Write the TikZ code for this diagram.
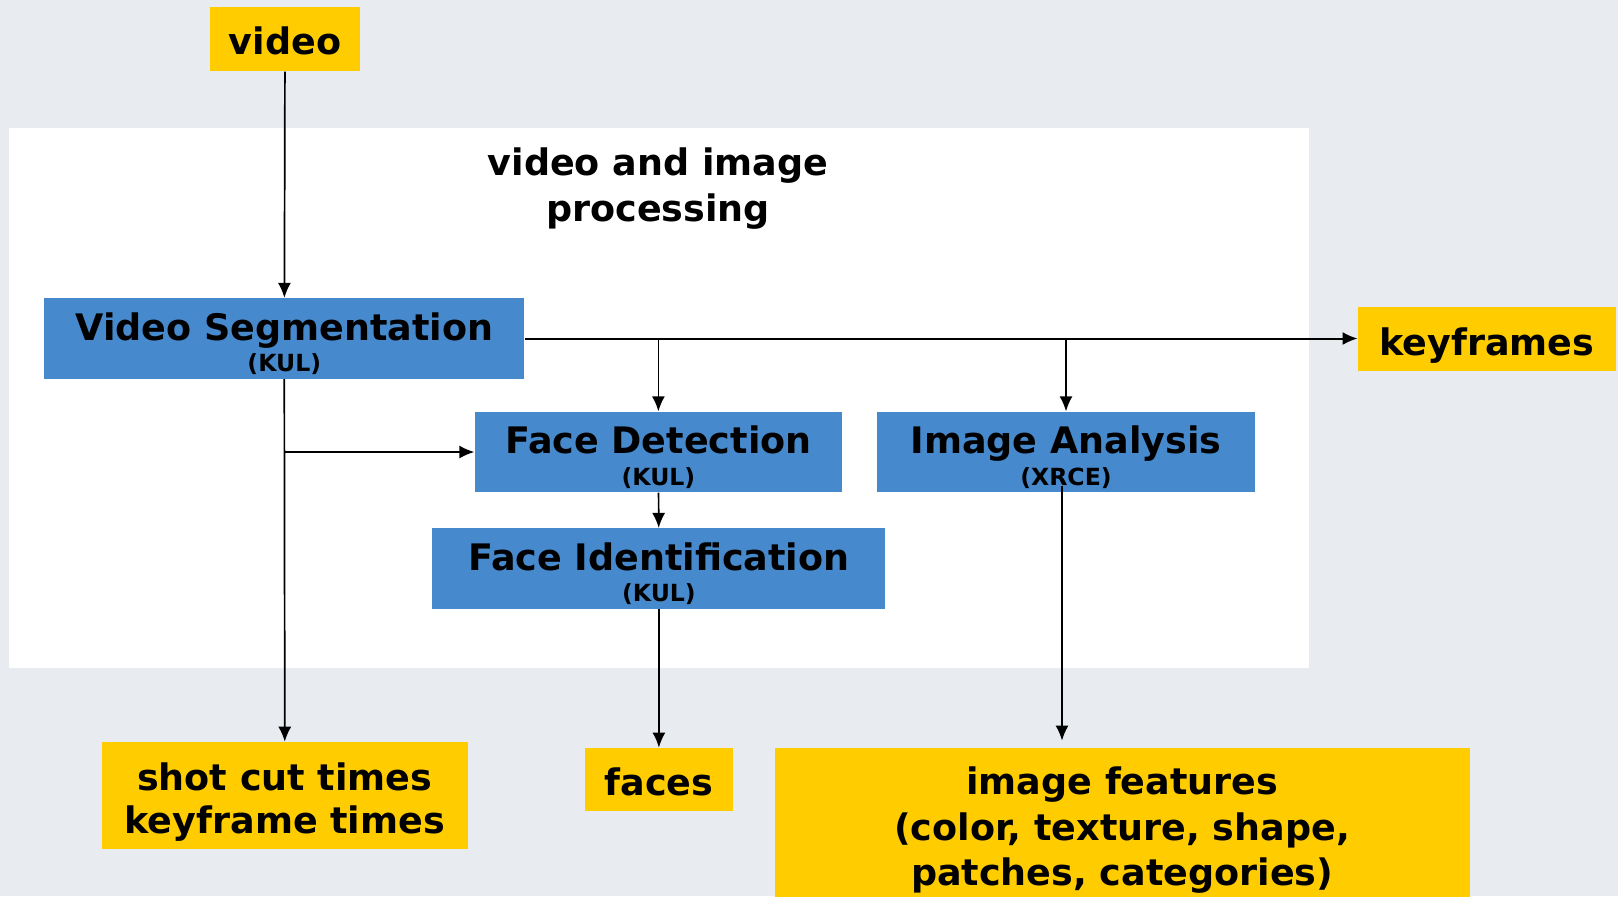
\documentclass[tikz,border=0pt]{standalone}
\usepackage{fontspec}
\setmainfont{DejaVu Sans}
\usepackage{xcolor}
\usepackage{tikz}
\usetikzlibrary{arrows.meta}
\definecolor{bgpanel}{RGB}{232,236,240}
\definecolor{boxblue}{RGB}{70,137,204}
\definecolor{outyellow}{RGB}{255,204,0}
\newcommand{\bigtxt}{\fontsize{18.25}{22.7}\selectfont\bfseries}
\newcommand{\kultxt}{\fontsize{11.8}{14}\selectfont\bfseries}
\newcommand{\dropto}[1]{\rule{0pt}{#1}}
\tikzstyle{arrow} = [-{Latex[length=7.5pt,width=6.5pt]}, line width=0.85pt]
\tikzstyle{procbox} = [fill=boxblue, align=center, inner sep=0pt, minimum height=40.25pt]
\tikzstyle{outbox} = [fill=outyellow, align=center, inner sep=0pt]

\begin{document}
\begin{tikzpicture}[x=0.5pt, y=-0.5pt, every node/.style={font=\bigtxt, text depth=0pt}]
		\fill [bgpanel] (0,0) rectangle (1618,896);
		\useasboundingbox (0,0) rectangle (1618,896);
		\fill [white] (9.3,128) rectangle (1308.5,667.6);
		
		\node (video) [outbox, minimum width=75.3pt, minimum height=32pt] at (285,39.2) {\dropto{15pt}video};
		\node (ptitle) [align=center] at (658,184.5) {video and image\\processing};
		
		\node (vseg) [procbox, minimum width=240pt] at (284.3,338.5) {\dropto{17.5pt}Video Segmentation\\[-6.9pt]{\kultxt (KUL)}};
		\node (keyf) [outbox, minimum width=129pt, minimum height=32pt] at (1487,338.5) {\dropto{16.9pt}keyframes};
		
		\node (fdet) [procbox, minimum width=183.6pt] at (658.4,452) {\dropto{17.5pt}Face Detection\\[-6.9pt]{\kultxt (KUL)}};
		\node (iana) [procbox, minimum width=188.9pt] at (1066,452) {\dropto{17.5pt}Image Analysis\\[-6.9pt]{\kultxt (XRCE)}};
		\node (fid) [procbox, minimum width=226.5pt] at (658.9,568.6) {\dropto{17.5pt}Face Identification\\[-6.9pt]{\kultxt (KUL)}};
		
		\node (shot) [outbox, minimum width=182.7pt, minimum height=53.6pt] at (284.8,795.7) {\dropto{16.3pt}shot cut times\\[-1pt]keyframe times};
		\node (faces) [outbox, minimum width=73.8pt, minimum height=31.5pt] at (658.9,779.5) {\dropto{15.9pt}faces};
		\node (feat) [outbox, minimum width=347.3pt, minimum height=78.5pt] at (1122.2,826.5) {image features\\(color, texture, shape,\\patches, categories)};
		
		\draw [arrow] (video) -- (vseg);
		\draw [arrow, line width=1pt] (vseg.east) -- (keyf.west);
		\draw [arrow] (fdet.north |- vseg.east) -- (fdet.north);
		\draw [arrow] (iana.north |- vseg.east) -- (iana.north);
		\draw [arrow] (vseg.south) -- (shot.north);
		\draw [arrow] (vseg.south |- fdet.west) -- (fdet.west);
		\draw [arrow] (fdet) -- (fid);
		\draw [arrow] (fid.south) -- (faces.north);
		\draw [arrow, shorten >=3.5pt] ([xshift=-2pt, yshift=3.5pt]iana.south) -- ([xshift=-2pt]iana.south |- feat.north);
	\end{tikzpicture}
\end{document}
